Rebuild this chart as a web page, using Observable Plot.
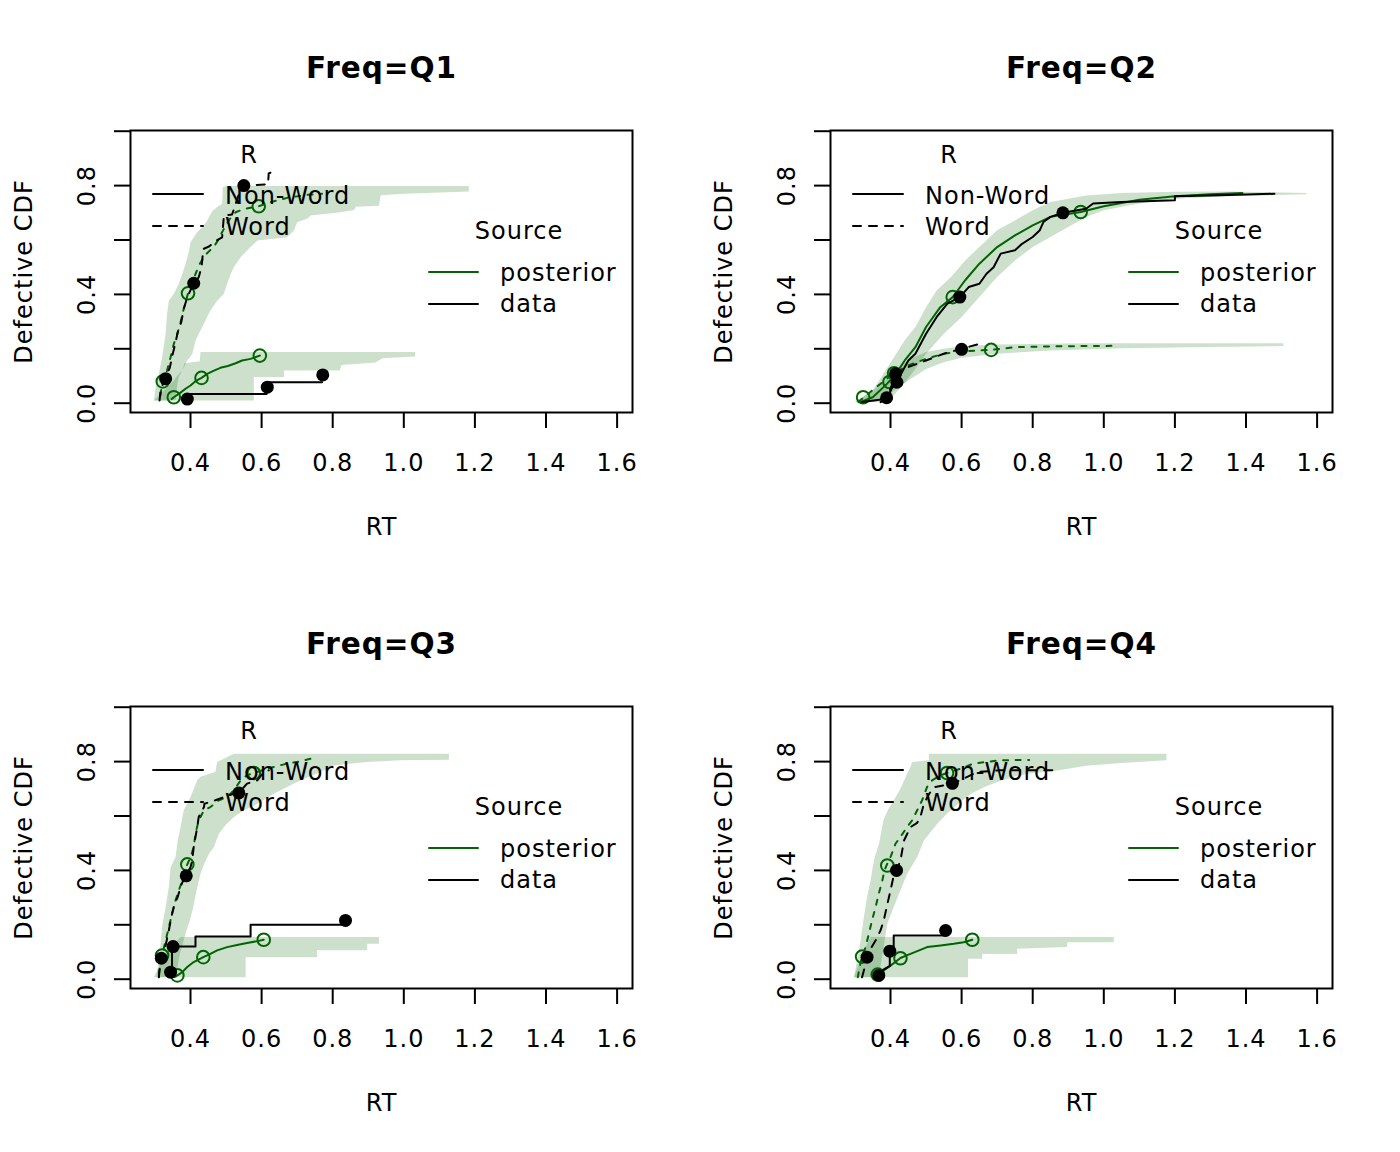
<!DOCTYPE html>
<html><head><meta charset="utf-8">
<script src="https://cdn.jsdelivr.net/npm/d3@7"></script>
<script src="https://cdn.jsdelivr.net/npm/@observablehq/plot@0.6"></script>
<style>
body{margin:0;background:#fff;}
#grid{display:grid;grid-template-columns:700px 700px;grid-template-rows:576px 576px;width:1400px;height:1152px;}
#grid svg{display:block;}
</style></head><body><div id="grid"></div><script>
// ---------- axis / labels ----------
const panelTitles = ["Freq=Q1","Freq=Q2","Freq=Q3","Freq=Q4"];
const xTicks = [0.4,0.6,0.8,1.0,1.2,1.4,1.6];
const yTicks = [0,0.2,0.4,0.6,0.8,1.0];
const yLabelTicks = [0,0.4,0.8];
const xLabel = "RT";
const yLabel = "Defective CDF";
const respLegendTitle = "R";
const respLevels = ["Non-Word","Word"];
const sourceLegendTitle = "Source";
const sourceLevels = ["posterior","data"];

// ---------- Q1 ----------
const q1NonWordBandHi = [[0.297,0.010],[0.316,0.034],[0.334,0.059],[0.353,0.083],[0.363,0.102],[0.377,0.120],[0.383,0.147],[0.426,0.154],[0.428,0.188],[1.032,0.188]];
const q1NonWordBandLo = [[0.297,0.010],[0.578,0.010],[0.578,0.096],[0.663,0.096],[0.663,0.120],[0.820,0.120],[0.825,0.140],[0.920,0.150],[0.940,0.165],[1.032,0.172]];
const q1NonWordPost = [[0.347,0.015],[0.353,0.022],[0.370,0.037],[0.386,0.053],[0.400,0.065],[0.414,0.081],[0.431,0.093],[0.447,0.108],[0.466,0.120],[0.484,0.130],[0.505,0.137],[0.527,0.147],[0.545,0.157],[0.569,0.163],[0.595,0.175]];
const q1NonWordPostPts = [[0.353,0.022],[0.431,0.093],[0.595,0.175]];
const q1NonWordData = [[0.391,0.034],[0.614,0.034],[0.614,0.077],[0.770,0.077]];
const q1NonWordDataPts = [[0.391,0.015],[0.616,0.059],[0.772,0.104]];
const q1WordBandHi = [[0.297,0.010],[0.302,0.059],[0.311,0.108],[0.320,0.169],[0.330,0.255],[0.334,0.328],[0.339,0.377],[0.353,0.402],[0.367,0.439],[0.377,0.475],[0.386,0.512],[0.395,0.555],[0.400,0.592],[0.409,0.610],[0.419,0.629],[0.433,0.647],[0.447,0.672],[0.461,0.706],[0.475,0.721],[0.489,0.733],[0.491,0.794],[0.499,0.799],[1.183,0.799]];
const q1WordBandLo = [[0.358,0.010],[0.363,0.071],[0.367,0.096],[0.377,0.120],[0.391,0.157],[0.405,0.181],[0.414,0.230],[0.428,0.267],[0.442,0.304],[0.456,0.341],[0.475,0.377],[0.494,0.402],[0.503,0.439],[0.513,0.475],[0.522,0.500],[0.541,0.537],[0.569,0.574],[0.588,0.598],[0.672,0.610],[0.691,0.635],[0.700,0.665],[0.728,0.678],[0.738,0.690],[0.822,0.702],[0.860,0.710],[0.865,0.722],[0.930,0.726],[0.935,0.765],[1.000,0.770],[1.183,0.778]];
const q1WordPost = [[0.316,0.030],[0.320,0.077],[0.334,0.120],[0.344,0.169],[0.353,0.218],[0.363,0.255],[0.372,0.298],[0.381,0.347],[0.393,0.404],[0.405,0.439],[0.414,0.475],[0.426,0.512],[0.440,0.543],[0.454,0.561],[0.468,0.580],[0.480,0.604],[0.489,0.629],[0.499,0.653],[0.511,0.678],[0.527,0.702],[0.550,0.714],[0.592,0.724],[0.625,0.739],[0.672,0.755],[0.728,0.766],[0.770,0.770]];
const q1WordPostPts = [[0.322,0.080],[0.393,0.404],[0.592,0.724]];
const q1WordData = [[0.313,0.010],[0.316,0.053],[0.330,0.090],[0.342,0.132],[0.350,0.181],[0.358,0.224],[0.364,0.261],[0.374,0.298],[0.381,0.347],[0.391,0.390],[0.409,0.441],[0.423,0.463],[0.431,0.500],[0.436,0.567],[0.452,0.576],[0.473,0.598],[0.489,0.610],[0.494,0.690],[0.517,0.694],[0.524,0.721],[0.533,0.757],[0.541,0.782],[0.550,0.800],[0.618,0.805],[0.620,0.845],[0.630,0.850],[0.634,0.868]];
const q1WordDataPts = [[0.330,0.090],[0.409,0.441],[0.550,0.800]];

// ---------- Q2 ----------
const q2NonWordBandHi = [[0.300,0.004],[0.350,0.047],[0.380,0.108],[0.410,0.169],[0.440,0.231],[0.470,0.280],[0.500,0.353],[0.530,0.415],[0.570,0.464],[0.610,0.525],[0.650,0.574],[0.700,0.636],[0.750,0.672],[0.800,0.709],[0.850,0.740],[0.950,0.764],[1.050,0.773],[1.200,0.777],[1.350,0.778],[1.570,0.773]];
const q2NonWordBandLo = [[0.350,0.004],[0.400,0.016],[0.430,0.059],[0.460,0.108],[0.500,0.182],[0.550,0.255],[0.600,0.317],[0.650,0.390],[0.700,0.464],[0.750,0.525],[0.800,0.574],[0.850,0.611],[0.900,0.648],[0.950,0.685],[1.000,0.709],[1.100,0.734],[1.200,0.752],[1.350,0.761],[1.570,0.768]];
const q2NonWordPost = [[0.315,0.004],[0.350,0.022],[0.390,0.071],[0.415,0.108],[0.440,0.157],[0.470,0.206],[0.500,0.280],[0.540,0.353],[0.575,0.390],[0.610,0.452],[0.650,0.513],[0.700,0.574],[0.750,0.617],[0.800,0.654],[0.850,0.685],[0.935,0.703],[1.000,0.724],[1.100,0.748],[1.200,0.761],[1.300,0.768],[1.390,0.773]];
const q2NonWordPostPts = [[0.397,0.078],[0.575,0.390],[0.935,0.703]];
const q2NonWordData = [[0.320,0.004],[0.390,0.016],[0.405,0.059],[0.418,0.077],[0.430,0.108],[0.450,0.157],[0.470,0.182],[0.500,0.255],[0.530,0.317],[0.560,0.366],[0.595,0.390],[0.620,0.427],[0.650,0.439],[0.670,0.476],[0.690,0.500],[0.710,0.550],[0.750,0.562],[0.770,0.586],[0.800,0.611],[0.820,0.636],[0.830,0.666],[0.850,0.685],[0.885,0.700],[0.950,0.715],[0.970,0.734],[1.050,0.740],[1.200,0.746],[1.200,0.761],[1.300,0.764],[1.480,0.770]];
const q2NonWordDataPts = [[0.418,0.077],[0.595,0.390],[0.885,0.700]];
const q2WordBandHi = [[0.300,0.004],[0.350,0.047],[0.400,0.100],[0.450,0.160],[0.500,0.188],[0.550,0.200],[0.600,0.210],[0.700,0.216],[0.950,0.220],[1.505,0.220]];
const q2WordBandLo = [[0.380,0.004],[0.410,0.047],[0.450,0.083],[0.500,0.126],[0.550,0.151],[0.600,0.167],[0.700,0.182],[0.850,0.194],[1.050,0.202],[1.250,0.206],[1.505,0.210]];
const q2WordPost = [[0.310,0.004],[0.325,0.022],[0.360,0.059],[0.390,0.090],[0.410,0.110],[0.450,0.139],[0.500,0.163],[0.550,0.182],[0.600,0.191],[0.685,0.196],[0.750,0.206],[0.850,0.209],[1.040,0.211]];
const q2WordPostPts = [[0.323,0.022],[0.410,0.110],[0.683,0.196]];
const q2WordData = [[0.372,0.004],[0.389,0.020],[0.405,0.070],[0.414,0.108],[0.450,0.133],[0.500,0.157],[0.550,0.182],[0.600,0.200],[0.653,0.219]];
const q2WordDataPts = [[0.389,0.020],[0.414,0.108],[0.600,0.198]];

// ---------- Q3 ----------
const q3NonWordBandHi = [[0.297,0.007],[0.311,0.044],[0.325,0.081],[0.339,0.112],[0.358,0.136],[0.372,0.155],[0.930,0.155]];
const q3NonWordBandLo = [[0.297,0.007],[0.555,0.007],[0.555,0.081],[0.756,0.081],[0.756,0.106],[0.897,0.106],[0.897,0.130],[0.930,0.130]];
const q3NonWordPost = [[0.355,0.008],[0.363,0.014],[0.377,0.026],[0.390,0.044],[0.409,0.063],[0.436,0.081],[0.456,0.093],[0.475,0.106],[0.503,0.118],[0.531,0.126],[0.559,0.133],[0.588,0.140],[0.606,0.145]];
const q3NonWordPostPts = [[0.363,0.014],[0.436,0.081],[0.606,0.145]];
const q3NonWordData = [[0.348,0.007],[0.348,0.120],[0.414,0.120],[0.414,0.157],[0.569,0.157],[0.569,0.200],[0.836,0.200]];
const q3NonWordDataPts = [[0.344,0.026],[0.351,0.120],[0.836,0.216]];
const q3WordBandHi = [[0.304,0.007],[0.314,0.106],[0.320,0.191],[0.330,0.265],[0.339,0.339],[0.344,0.412],[0.358,0.449],[0.364,0.510],[0.372,0.560],[0.381,0.621],[0.400,0.670],[0.419,0.731],[0.428,0.744],[0.470,0.762],[0.475,0.799],[0.522,0.829],[1.127,0.829]];
const q3WordBandLo = [[0.358,0.007],[0.370,0.093],[0.386,0.167],[0.398,0.216],[0.408,0.265],[0.417,0.326],[0.428,0.388],[0.439,0.425],[0.452,0.461],[0.466,0.486],[0.480,0.535],[0.498,0.566],[0.522,0.596],[0.550,0.621],[0.588,0.645],[0.634,0.682],[0.681,0.713],[0.719,0.737],[0.756,0.756],[0.803,0.786],[0.897,0.799],[0.991,0.805],[1.127,0.807]];
const q3WordPost = [[0.311,0.020],[0.320,0.087],[0.330,0.142],[0.339,0.191],[0.348,0.240],[0.358,0.290],[0.367,0.326],[0.377,0.363],[0.383,0.400],[0.391,0.422],[0.400,0.449],[0.409,0.486],[0.414,0.535],[0.423,0.584],[0.438,0.621],[0.456,0.633],[0.480,0.658],[0.503,0.670],[0.522,0.694],[0.541,0.731],[0.559,0.750],[0.578,0.758],[0.616,0.774],[0.672,0.793],[0.709,0.801],[0.752,0.815]];
const q3WordPostPts = [[0.320,0.087],[0.391,0.422],[0.578,0.758]];
const q3WordData = [[0.311,0.007],[0.314,0.050],[0.318,0.077],[0.330,0.124],[0.339,0.179],[0.346,0.228],[0.355,0.277],[0.364,0.302],[0.372,0.339],[0.380,0.365],[0.388,0.380],[0.400,0.412],[0.405,0.437],[0.409,0.486],[0.419,0.560],[0.423,0.596],[0.438,0.633],[0.439,0.645],[0.470,0.658],[0.494,0.670],[0.517,0.680],[0.536,0.685],[0.559,0.719],[0.588,0.731],[0.606,0.762],[0.620,0.768]];
const q3WordDataPts = [[0.318,0.077],[0.388,0.380],[0.536,0.685]];

// ---------- Q4 ----------
const q4NonWordBandHi = [[0.297,0.007],[0.311,0.056],[0.320,0.093],[0.339,0.142],[0.344,0.155],[1.028,0.155]];
const q4NonWordBandLo = [[0.297,0.007],[0.618,0.007],[0.618,0.075],[0.658,0.075],[0.658,0.093],[0.756,0.093],[0.756,0.112],[0.897,0.118],[0.897,0.136],[1.028,0.136]];
const q4NonWordPost = [[0.358,0.010],[0.364,0.017],[0.381,0.032],[0.400,0.050],[0.428,0.078],[0.456,0.093],[0.484,0.108],[0.503,0.118],[0.541,0.124],[0.578,0.130],[0.606,0.136],[0.630,0.145]];
const q4NonWordPostPts = [[0.364,0.017],[0.428,0.077],[0.630,0.145]];
const q4NonWordData = [[0.367,0.014],[0.380,0.035],[0.398,0.049],[0.398,0.120],[0.409,0.120],[0.409,0.161],[0.555,0.161]];
const q4NonWordDataPts = [[0.367,0.014],[0.398,0.103],[0.555,0.179]];
const q4WordBandHi = [[0.297,0.007],[0.306,0.069],[0.316,0.142],[0.325,0.228],[0.334,0.302],[0.344,0.363],[0.350,0.412],[0.356,0.450],[0.368,0.500],[0.380,0.584],[0.392,0.620],[0.410,0.660],[0.428,0.700],[0.445,0.750],[0.456,0.780],[0.461,0.799],[0.508,0.805],[0.508,0.829],[1.176,0.829]];
const q4WordBandLo = [[0.367,0.007],[0.376,0.081],[0.391,0.204],[0.409,0.265],[0.428,0.327],[0.447,0.388],[0.475,0.449],[0.494,0.510],[0.531,0.571],[0.560,0.610],[0.600,0.655],[0.630,0.685],[0.663,0.706],[0.700,0.725],[0.750,0.745],[0.785,0.755],[0.870,0.767],[0.950,0.785],[1.050,0.795],[1.176,0.805]];
const q4WordPost = [[0.308,0.007],[0.314,0.050],[0.320,0.083],[0.330,0.118],[0.339,0.167],[0.348,0.216],[0.358,0.265],[0.367,0.314],[0.377,0.363],[0.383,0.400],[0.390,0.422],[0.400,0.449],[0.414,0.498],[0.428,0.523],[0.447,0.560],[0.461,0.584],[0.475,0.621],[0.489,0.658],[0.503,0.707],[0.517,0.731],[0.541,0.750],[0.559,0.758],[0.597,0.774],[0.634,0.793],[0.672,0.799],[0.709,0.805],[0.790,0.806]];
const q4WordPostPts = [[0.320,0.083],[0.391,0.418],[0.559,0.758]];
const q4WordData = [[0.320,0.007],[0.330,0.056],[0.334,0.081],[0.344,0.112],[0.358,0.142],[0.372,0.180],[0.381,0.216],[0.390,0.270],[0.400,0.326],[0.408,0.375],[0.417,0.400],[0.428,0.437],[0.438,0.510],[0.456,0.559],[0.475,0.575],[0.484,0.596],[0.494,0.645],[0.508,0.680],[0.522,0.706],[0.550,0.713],[0.575,0.719],[0.616,0.744],[0.644,0.762],[0.709,0.768],[0.860,0.768]];
const q4WordDataPts = [[0.334,0.081],[0.417,0.400],[0.574,0.720]];

// ---------- assemble ----------
const resp = (bandHi, bandLo, post, postPts, data, dataPts) => ({bandHi, bandLo, post, postPts, data, dataPts});
const panels = [
  {title: panelTitles[0],
   nw: resp(q1NonWordBandHi,q1NonWordBandLo,q1NonWordPost,q1NonWordPostPts,q1NonWordData,q1NonWordDataPts),
   w: resp(q1WordBandHi,q1WordBandLo,q1WordPost,q1WordPostPts,q1WordData,q1WordDataPts)},
  {title: panelTitles[1],
   nw: resp(q2NonWordBandHi,q2NonWordBandLo,q2NonWordPost,q2NonWordPostPts,q2NonWordData,q2NonWordDataPts),
   w: resp(q2WordBandHi,q2WordBandLo,q2WordPost,q2WordPostPts,q2WordData,q2WordDataPts)},
  {title: panelTitles[2],
   nw: resp(q3NonWordBandHi,q3NonWordBandLo,q3NonWordPost,q3NonWordPostPts,q3NonWordData,q3NonWordDataPts),
   w: resp(q3WordBandHi,q3WordBandLo,q3WordPost,q3WordPostPts,q3WordData,q3WordDataPts)},
  {title: panelTitles[3],
   nw: resp(q4NonWordBandHi,q4NonWordBandLo,q4NonWordPost,q4NonWordPostPts,q4NonWordData,q4NonWordDataPts),
   w: resp(q4WordBandHi,q4WordBandLo,q4WordPost,q4WordPostPts,q4WordData,q4WordDataPts)}
];

const GREEN = "#006400";
const FONT = "DejaVu Sans";
const DASH_DATA = "8,8";
const DASH_POST = "5,7.5";
const pts = a => a.map(([x, y]) => ({x, y}));
const poly = (hi, lo) => pts(hi.concat(lo.slice().reverse()));
const fmt = d3.format(".1f");

function drawPanel(p) {
  const marks = [];
  for (const r of [p.nw, p.w]) {
    marks.push(Plot.line(poly(r.bandHi, r.bandLo), {x: "x", y: "y", fill: GREEN, fillOpacity: 0.2, stroke: "none"}));
  }
  for (const [r, dashed] of [[p.nw, false], [p.w, true]]) {
    marks.push(Plot.line(pts(r.post), {x: "x", y: "y", stroke: GREEN, strokeWidth: 2, strokeLinecap: "round", strokeLinejoin: "round", ...(dashed ? {strokeDasharray: DASH_POST} : {})}));
    marks.push(Plot.dot(pts(r.postPts), {x: "x", y: "y", r: 6.3, stroke: GREEN, strokeWidth: 2, fill: "none"}));
  }
  for (const [r, dashed] of [[p.nw, false], [p.w, true]]) {
    marks.push(Plot.line(pts(r.data), {x: "x", y: "y", stroke: "black", strokeWidth: 2, strokeLinecap: "round", strokeLinejoin: "round", ...(dashed ? {strokeDasharray: DASH_DATA} : {})}));
    marks.push(Plot.dot(pts(r.dataPts), {x: "x", y: "y", r: 6.5, fill: "black", stroke: "none"}));
  }
  marks.push(Plot.frame({stroke: "black", strokeWidth: 2}));
  marks.push(Plot.axisX({ticks: xTicks, tickSize: 16, tickPadding: 25.7, tickFormat: fmt, fontSize: 24, label: null, strokeWidth: 2}));
  marks.push(Plot.axisY({ticks: yTicks, tickSize: 16, tickFormat: () => "", label: null, strokeWidth: 2}));
  marks.push(Plot.text(yLabelTicks, {y: d => d, text: d => fmt(d), frameAnchor: "left", dx: -36, rotate: -90, lineAnchor: "bottom", textAnchor: "middle", fontSize: 24, fill: "black"}));
  marks.push(Plot.text([yLabel], {frameAnchor: "left", dx: -99, rotate: -90, lineAnchor: "bottom", textAnchor: "middle", fontSize: 24, fill: "black"}));
  marks.push(Plot.text([xLabel], {frameAnchor: "bottom", dy: 122, lineAnchor: "bottom", textAnchor: "middle", fontSize: 24, fill: "black"}));
  marks.push(Plot.text([p.title], {frameAnchor: "top", dy: -53, lineAnchor: "bottom", textAnchor: "middle", fontSize: 29.5, fontWeight: "bold", fill: "black"}));

  const svg = Plot.plot({
    width: 700, height: 576,
    marginLeft: 130, marginRight: 68, marginTop: 130, marginBottom: 164,
    x: {domain: [0.2312, 1.6433]},
    y: {domain: [-0.0342, 1.0026]},
    style: {fontFamily: FONT, fontSize: "24px", background: "white", color: "black", overflow: "visible", letterSpacing: "1px"},
    marks
  });

  // legends (drawn on top, like R's legend())
  const g = d3.select(svg).append("g").attr("font-family", FONT).attr("font-size", 24).attr("fill", "black")
    .attr("text-anchor", "start").style("letter-spacing", "1px");
  g.append("text").attr("x", 249).attr("y", 163).attr("text-anchor", "middle").text(respLegendTitle);
  const rl = [[194, 204, null], [226, 235, DASH_DATA]];
  respLevels.forEach((lab, i) => {
    const [ly, ty, dash] = rl[i];
    const ln = g.append("line").attr("x1", 153).attr("x2", 203).attr("y1", ly).attr("y2", ly)
      .attr("stroke", "black").attr("stroke-width", 2).attr("stroke-linecap", "round");
    if (dash) ln.attr("stroke-dasharray", dash);
    g.append("text").attr("x", 225).attr("y", ty).attr("text-anchor", "start").text(lab);
  });
  g.append("text").attr("x", 519).attr("y", 239).attr("text-anchor", "middle").text(sourceLegendTitle);
  const sl = [[272, 281, GREEN], [304, 312, "black"]];
  sourceLevels.forEach((lab, i) => {
    const [ly, ty, col] = sl[i];
    g.append("line").attr("x1", 429).attr("x2", 478).attr("y1", ly).attr("y2", ly)
      .attr("stroke", col).attr("stroke-width", 2).attr("stroke-linecap", "round");
    g.append("text").attr("x", 500).attr("y", ty).attr("text-anchor", "start").text(lab);
  });
  return svg;
}

const grid = document.getElementById("grid");
panels.forEach(p => grid.appendChild(drawPanel(p)));
</script></body></html>
